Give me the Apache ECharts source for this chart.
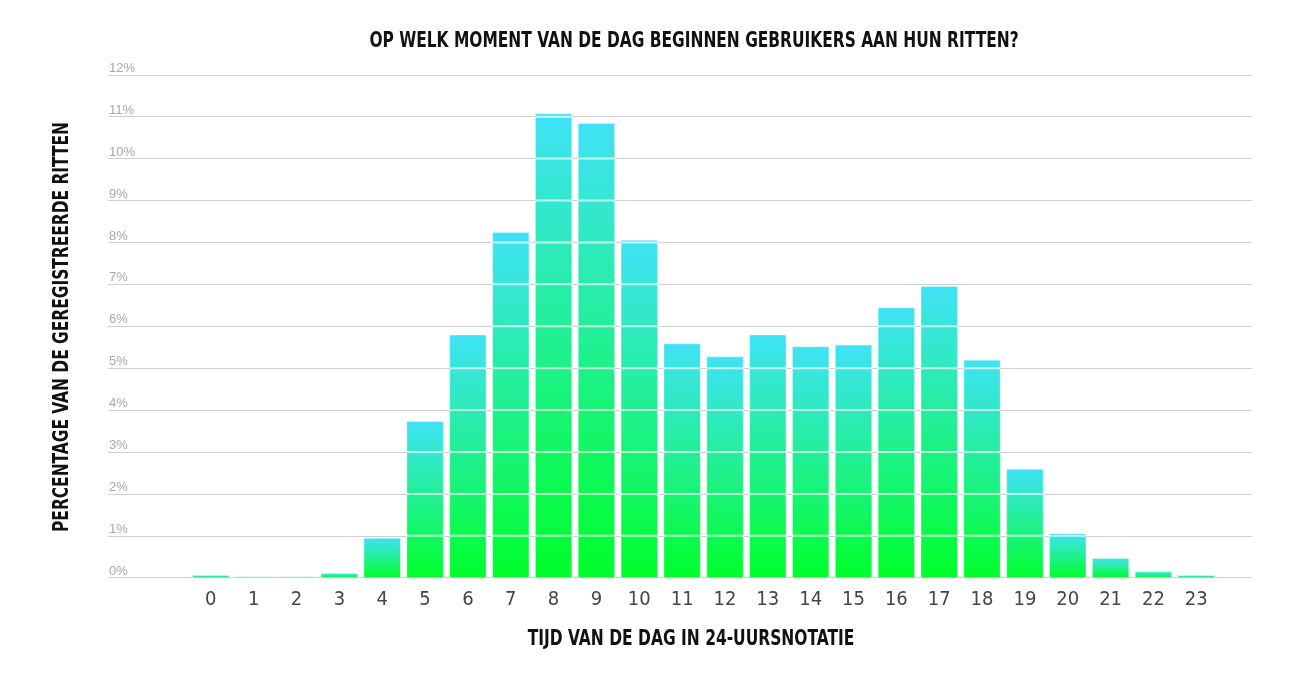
<!DOCTYPE html>
<html>
<head>
<meta charset="utf-8">
<script src="https://cdn.jsdelivr.net/npm/echarts@6/dist/echarts.min.js"></script>
<style>
html,body{margin:0;padding:0;background:#fff;}
#chart{width:1300px;height:680px;}
</style>
</head>
<body>
<div id="chart"></div>
<script>
const titleText = 'OP WELK MOMENT VAN DE DAG BEGINNEN GEBRUIKERS AAN HUN RITTEN?';
const xAxisTitle = 'TIJD VAN DE DAG IN 24-UURSNOTATIE';
const yAxisTitle = 'PERCENTAGE VAN DE GEREGISTREERDE RITTEN';
const hours = ['0','1','2','3','4','5','6','7','8','9','10','11','12','13','14','15','16','17','18','19','20','21','22','23'];
const sharePct = [0.05,0.02,0.02,0.10,0.94,3.73,5.79,8.24,11.07,10.84,8.05,5.58,5.27,5.79,5.51,5.55,6.44,6.95,5.19,2.59,1.05,0.46,0.14,0.05];
const yTicks = [0,1,2,3,4,5,6,7,8,9,10,11,12];
const yMin = 0, yMax = 12, yStep = 1;

const condensed = '"DejaVu Sans Condensed", "Liberation Sans Narrow", sans-serif';
const chart = echarts.init(document.getElementById('chart'), null, {renderer: 'canvas'});
const gTop = 74.8, gBottom = 102.3;
const barFrac = 0.85;

function renderBar(params, api) {
  const idx = api.value(0), val = api.value(1);
  const top = api.coord([idx, val]);
  const base = api.coord([idx, 0]);
  const bw = api.size([1, 0])[0] * barFrac;
  const x0 = top[0] - bw / 2;
  const children = [{
    type: 'rect', z2: 0,
    shape: {x: x0, y: top[1], width: bw, height: base[1] - top[1]},
    style: {
      fill: new echarts.graphic.LinearGradient(0, 0, 0, 1, [
        {offset: 0, color: '#40e2f6'},
        {offset: 1, color: '#00ff2a'}
      ]),
      stroke: 'rgba(255,255,255,0.35)', lineWidth: 1
    }
  }];
  yTicks.forEach(t => {
    if (t > 0 && t < val) {
      const y = api.coord([idx, t])[1];
      children.push({
        type: 'rect', z2: 10,
        shape: {x: x0, y: y - 1, width: bw, height: 2},
        style: {fill: 'rgba(255,255,255,0.7)', stroke: null}
      });
    }
  });
  return {type: 'group', children: children};
}

chart.setOption({
  animation: false,
  backgroundColor: '#ffffff',
  grid: [
    {left: 108, right: 48, top: gTop, bottom: gBottom},
    {left: 189.4, right: 82.3, top: gTop, bottom: gBottom}
  ],
  xAxis: [
    {gridIndex: 0, type: 'value', min: 0, max: 1, show: false},
    {gridIndex: 1, type: 'category', data: hours,
     axisLine: {show: false}, axisTick: {show: false},
     axisLabel: {color: '#454545', fontFamily: condensed, fontSize: 20, margin: 12}}
  ],
  yAxis: [
    {gridIndex: 0, type: 'value', min: yMin, max: yMax, interval: yStep,
     axisLine: {show: false}, axisTick: {show: false},
     splitLine: {show: true, lineStyle: {color: '#d0d0d0', width: 1.2}},
     axisLabel: {inside: true, margin: 1, verticalAlign: 'bottom', align: 'left',
       color: '#a8a8a8', fontFamily: '"Liberation Sans", Arial, sans-serif', fontSize: 13,
       formatter: v => v + '%'}},
    {gridIndex: 1, type: 'value', min: yMin, max: yMax, interval: yStep, show: false}
  ],
  series: [{
    type: 'custom',
    xAxisIndex: 1, yAxisIndex: 1,
    data: sharePct.map((v, i) => [i, v]),
    encode: {x: 0, y: 1},
    renderItem: renderBar,
    clip: false,
    z: 2
  }],
  graphic: [
    {type: 'text', x: 694, y: 41, scaleX: 0.78,
     style: {text: titleText, fill: '#111', font: 'bold 22px ' + condensed,
             textAlign: 'center', textVerticalAlign: 'middle'}},
    {type: 'text', x: 691, y: 640, scaleX: 0.82,
     style: {text: xAxisTitle, fill: '#111', font: 'bold 21px ' + condensed,
             textAlign: 'center', textVerticalAlign: 'middle'}},
    {type: 'text', x: 62, y: 327, rotation: Math.PI / 2, scaleX: 0.78,
     style: {text: yAxisTitle, fill: '#111', font: 'bold 22px ' + condensed,
             textAlign: 'center', textVerticalAlign: 'middle'}}
  ]
});
</script>
</body>
</html>
